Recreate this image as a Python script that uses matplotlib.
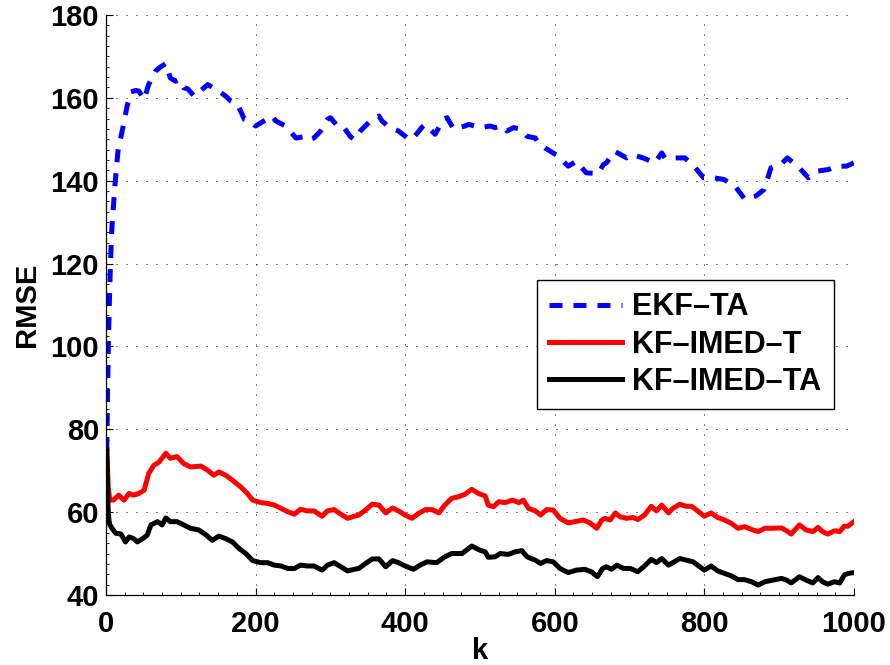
import numpy as np
import matplotlib
matplotlib.use('Agg')
import matplotlib.pyplot as plt
from matplotlib.ticker import MultipleLocator

# RMSE vs time step k for the three filters
k_ekf = [1, 2, 3, 4, 5, 6, 7, 8, 10, 12, 16, 23, 28, 33, 40, 44, 51, 57, 66, 71, 80,
         86, 93, 98, 104, 109, 118, 131, 136, 147, 151, 160, 167, 176, 185, 193, 200,
         211, 222, 227, 240, 254, 265, 269, 278, 287, 296, 300, 309, 316, 327, 332,
         340, 349, 356, 365, 369, 378, 391, 403, 409, 423, 427, 440, 451, 456, 465,
         480, 485, 500, 514, 520, 529, 536, 545, 554, 563, 574, 578, 587, 603, 618,
         629, 642, 658, 665, 669, 680, 696, 703, 718, 734, 743, 747, 760, 774, 781,
         788, 799, 812, 826, 841, 854, 869, 880, 889, 902, 911, 927, 939, 951, 966,
         977, 990, 1000]
rmse_ekf = [75.0, 88.0, 99.0, 107.0, 114.0, 120.0, 125.0, 129.0, 134.0, 139.0, 147.1,
            153.2, 157.8, 161.4, 161.8, 161.6, 159.6, 163.2, 166.4, 167.2, 168.3,
            164.8, 164.0, 164.4, 162.4, 162.2, 160.4, 162.4, 163.2, 162.0, 161.6,
            160.4, 159.2, 158.4, 154.8, 154.4, 153.2, 154.4, 155.6, 154.4, 153.2,
            150.3, 150.6, 149.9, 150.3, 152.0, 154.8, 155.2, 153.3, 153.3, 150.6,
            149.9, 152.0, 153.6, 154.9, 155.6, 154.4, 153.0, 152.0, 150.3, 149.9,
            153.0, 153.6, 151.2, 154.8, 155.2, 152.4, 153.2, 153.6, 152.8, 153.2,
            152.8, 153.3, 152.0, 152.8, 152.5, 150.7, 150.3, 149.1, 147.9, 146.1,
            143.5, 144.7, 141.9, 141.7, 143.9, 144.3, 147.1, 145.5, 146.3, 145.5,
            144.3, 146.7, 145.5, 145.5, 145.5, 144.3, 143.1, 140.7, 140.7, 140.3,
            138.7, 135.5, 136.3, 137.9, 143.1, 143.9, 145.5, 143.1, 140.7, 142.3,
            142.7, 143.5, 143.5, 144.3]

k_t = [1, 3, 5, 10, 17, 24, 31, 37, 44, 51, 57, 64, 71, 80, 86, 95, 104, 113, 127,
       136, 144, 151, 160, 169, 180, 189, 196, 207, 216, 225, 234, 243, 252, 260,
       269, 278, 289, 296, 305, 314, 323, 332, 338, 347, 356, 365, 374, 383, 391,
       400, 409, 418, 427, 436, 445, 453, 462, 471, 480, 489, 498, 507, 511, 518,
       525, 534, 543, 552, 558, 565, 574, 581, 589, 598, 607, 618, 627, 638, 647,
       656, 663, 667, 674, 681, 687, 696, 705, 711, 720, 729, 736, 743, 752, 758,
       767, 776, 783, 791, 800, 809, 818, 827, 836, 845, 854, 863, 872, 881, 892,
       903, 910, 916, 927, 936, 945, 952, 958, 965, 974, 981, 987, 992, 1000]
rmse_t = [75.0, 66.0, 63.0, 62.9, 64.1, 62.9, 64.5, 64.1, 64.5, 65.3, 69.3, 71.3,
          72.1, 74.2, 73.0, 73.4, 71.7, 70.9, 71.1, 70.1, 68.9, 69.7, 68.9, 67.7,
          66.1, 64.5, 62.9, 62.3, 62.1, 61.7, 60.9, 60.1, 59.5, 60.7, 60.3, 60.3,
          59.0, 60.3, 60.6, 59.5, 58.5, 59.0, 59.3, 60.5, 61.9, 61.7, 59.8, 61.0,
          60.3, 59.3, 58.5, 59.7, 60.6, 60.6, 59.8, 61.7, 63.3, 63.7, 64.3, 65.5,
          64.5, 63.9, 61.7, 61.3, 62.5, 62.3, 62.9, 62.3, 62.9, 60.9, 60.3, 59.3,
          60.6, 60.5, 58.5, 57.4, 57.7, 58.1, 57.4, 56.1, 58.1, 58.5, 58.1, 59.8,
          58.9, 58.5, 58.7, 58.2, 59.3, 61.4, 60.3, 61.7, 59.8, 60.9, 61.9, 61.4,
          61.4, 60.3, 59.0, 59.8, 58.7, 58.1, 57.3, 56.1, 56.5, 55.8, 55.3, 56.1,
          56.1, 56.2, 55.5, 54.7, 56.9, 55.7, 55.3, 56.3, 55.3, 54.7, 55.5, 55.3,
          56.6, 56.6, 57.7]

k_ta = [1, 2, 3, 4, 5, 8, 13, 20, 26, 31, 37, 42, 49, 55, 60, 69, 75, 80, 86, 95,
        104, 113, 124, 133, 142, 151, 160, 169, 178, 187, 196, 207, 216, 225, 234,
        243, 252, 260, 269, 278, 289, 296, 305, 314, 323, 332, 338, 347, 356, 365,
        374, 383, 391, 400, 411, 420, 429, 442, 453, 462, 476, 489, 500, 507, 511,
        520, 527, 538, 547, 556, 563, 574, 581, 589, 598, 607, 618, 629, 640, 649,
        657, 664, 669, 676, 683, 692, 701, 711, 720, 729, 736, 743, 752, 758, 767,
        776, 785, 794, 800, 809, 818, 827, 836, 845, 854, 863, 872, 881, 892, 903,
        910, 916, 927, 936, 945, 952, 958, 965, 974, 981, 987, 992, 1000]
rmse_ta = [75.0, 66.0, 60.0, 58.0, 57.0, 56.1, 54.9, 54.7, 52.8, 54.0, 53.6, 52.8,
           53.6, 54.4, 56.9, 57.7, 56.9, 58.6, 57.7, 57.7, 56.9, 56.1, 55.7, 54.6,
           53.2, 54.2, 53.6, 52.8, 51.2, 50.0, 48.3, 47.8, 47.8, 47.2, 47.0, 46.4,
           46.4, 47.2, 47.0, 47.0, 46.0, 47.2, 47.8, 46.8, 45.8, 46.2, 46.4, 47.6,
           48.7, 48.7, 46.8, 48.3, 47.8, 47.0, 46.2, 47.2, 48.0, 47.8, 49.2, 50.0,
           50.0, 51.8, 50.8, 50.4, 49.1, 49.2, 50.0, 49.8, 50.4, 50.7, 49.2, 48.4,
           47.6, 48.3, 48.0, 46.4, 45.4, 46.0, 46.2, 45.6, 44.4, 46.4, 46.8, 46.2,
           47.2, 46.4, 46.4, 45.6, 47.0, 48.6, 47.8, 48.8, 47.2, 47.8, 48.8, 48.4,
           48.0, 46.8, 46.0, 47.0, 45.8, 45.2, 44.6, 43.7, 43.7, 43.2, 42.4, 43.2,
           43.6, 44.0, 43.6, 42.9, 44.4, 43.6, 42.9, 44.2, 43.2, 42.6, 43.2, 42.9,
           44.8, 45.2, 45.4]

labels = ['EKF\u2013TA', 'KF\u2013IMED\u2013T', 'KF\u2013IMED\u2013TA']

plt.rcParams['font.family'] = ['Liberation Sans', 'DejaVu Sans']
plt.rcParams['font.weight'] = 'bold'
plt.rcParams['font.size'] = 21

fig = plt.figure(figsize=(8.9, 6.65), dpi=100)
ax = fig.add_axes([0.1191, 0.1053, 0.8404, 0.8722])

ax.plot(k_ekf, rmse_ekf, color='#0000ff', lw=3.6, dashes=(2.6, 2.2),
        dash_capstyle='butt', label=labels[0])
ax.plot(k_t, rmse_t, color='#ff0000', lw=3.6, label=labels[1])
ax.plot(k_ta, rmse_ta, color='k', lw=3.6, label=labels[2])

ax.set_xlim(0, 1000)
ax.set_ylim(40, 180)
ax.set_xticks(np.arange(0, 1001, 200))
ax.set_yticks(np.arange(40, 181, 20))
ax.xaxis.set_minor_locator(MultipleLocator(25))
ax.yaxis.set_minor_locator(MultipleLocator(2.5))
ax.tick_params(which='major', direction='in', length=5, width=0.8, pad=11, labelsize=21)
ax.tick_params(axis='y', which='major', pad=5)
ax.tick_params(which='minor', direction='in', length=2.5, width=0.6)
ax.tick_params(top=False, right=False)

ax.grid(True, which='major', color='k', lw=0.72, ls=(0, (1, 9)))
ax.spines['top'].set_visible(False)
ax.spines['right'].set_visible(False)
for s in ['left', 'bottom']:
    ax.spines[s].set_linewidth(0.9)

ax.set_xlabel('k', fontsize=21, fontweight='bold', labelpad=-1)
ax.set_ylabel('RMSE', fontsize=21, fontweight='bold', labelpad=7)

leg = ax.legend(loc='upper left', bbox_to_anchor=(0.576, 0.543), fontsize=22,
                frameon=True, fancybox=False, framealpha=1, edgecolor='k',
                handlelength=2.4, handletextpad=0.33, borderpad=0.4,
                labelspacing=0.24, borderaxespad=0)
leg.get_frame().set_linewidth(1.0)

fig.savefig('out.png', dpi=100)
